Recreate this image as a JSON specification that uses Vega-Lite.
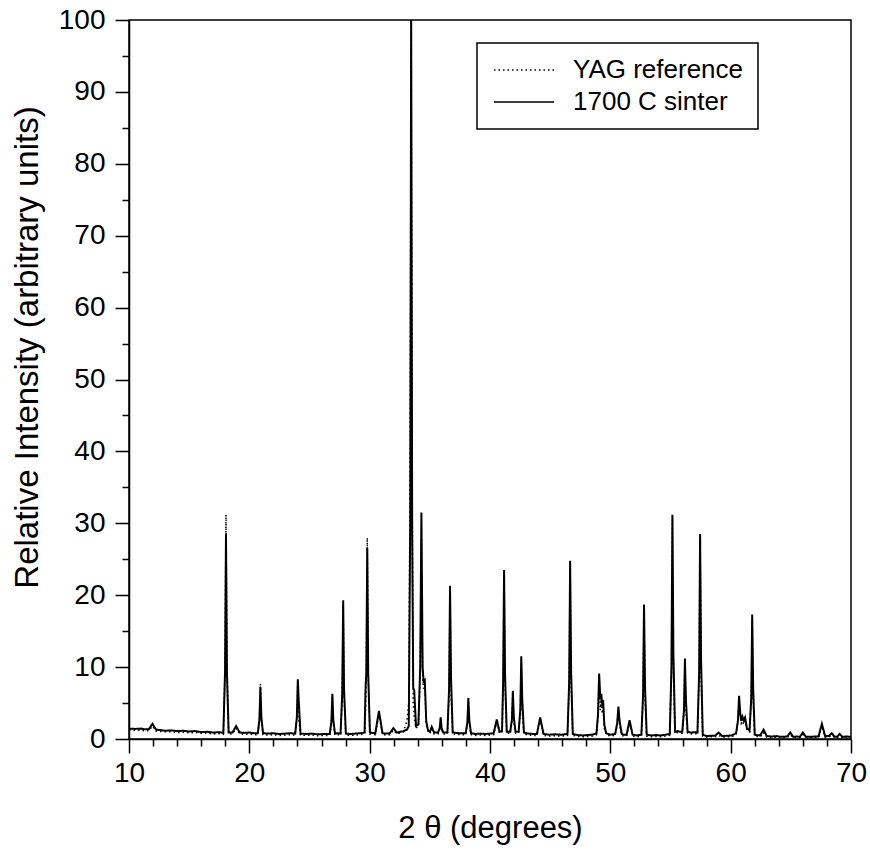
{
  "$schema": "https://vega.github.io/schema/vega-lite/v6.json",
  "width": 722,
  "height": 719,
  "autosize": {"type": "none"},
  "padding": {"left": 129, "top": 20, "right": 19, "bottom": 114},
  "background": "white",
  "config": {
    "view": {"stroke": "black", "strokeWidth": 1.5},
    "font": "Liberation Sans",
    "axis": {"domainColor": "black", "domainWidth": 1.5, "tickColor": "black", "tickWidth": 1.5, "labelColor": "black", "titleColor": "black", "labelFontSize": 28, "titleFontSize": 31, "titleFontWeight": "normal", "grid": false, "labelFont": "Liberation Sans", "titleFont": "Liberation Sans"},
    "legend": {"orient": "none", "legendX": 348, "legendY": 23, "strokeColor": "black", "strokeWidth": 1.5, "padding": 14, "symbolType": "M-1,0L5,0", "symbolSize": 400, "symbolStrokeWidth": 1.5, "symbolStrokeColor": "black", "labelOffset": 56, "labelFontSize": 26, "labelFont": "Liberation Sans", "labelColor": "black", "rowPadding": 6, "labelLimit": 300}
  },
  "resolve": {"scale": {"x": "shared", "y": "shared"}, "axis": {"x": "independent", "y": "independent"}},
  "data": {"values": [
    {"x":10,"s":1.45,"r":1.25},{"x":10.5,"s":1.4,"r":1.2},{"x":11,"s":1.45,"r":1.2},{"x":11.3,"s":1.35,"r":1.15},{"x":11.65,"s":1.35,"r":1.15},{"x":11.95,"s":2.1,"r":1.8},{"x":12.25,"s":1.3,"r":1.1},{"x":12.6,"s":1.25,"r":1.05},{"x":13,"s":1.15,"r":1.0},{"x":13.5,"s":1.2,"r":1.0},{"x":14,"s":1.1,"r":0.9},{"x":14.5,"s":1.15,"r":0.95},{"x":15,"s":1.05,"r":0.85},{"x":15.5,"s":1.1,"r":0.9},{"x":16,"s":0.95,"r":0.8},{"x":16.5,"s":1.0,"r":0.8},{"x":17,"s":0.9,"r":0.7},{"x":17.5,"s":0.95,"r":0.75},
    {"x":17.84,"s":0.85,"r":0.65},{"x":17.98,"s":9.2,"r":9.8},{"x":18.06,"s":28.5,"r":31.2},{"x":18.14,"s":9.2,"r":9.8},{"x":18.28,"s":0.9,"r":0.7},{"x":18.6,"s":0.9,"r":0.7},{"x":18.9,"s":1.8,"r":1.5},{"x":19.2,"s":0.9,"r":0.7},{"x":19.6,"s":0.85,"r":0.65},{"x":20,"s":0.9,"r":0.7},{"x":20.4,"s":0.8,"r":0.6},
    {"x":20.7,"s":0.8,"r":0.6},{"x":20.84,"s":2.7,"r":2.7},{"x":20.92,"s":7.2,"r":7.7},{"x":21.0,"s":3.0,"r":2.7},{"x":21.14,"s":0.8,"r":0.6},{"x":21.6,"s":0.75,"r":0.55},{"x":22,"s":0.8,"r":0.6},{"x":22.5,"s":0.7,"r":0.5},{"x":23,"s":0.75,"r":0.55},{"x":23.4,"s":0.8,"r":0.6},
    {"x":23.81,"s":0.75,"r":0.55},{"x":23.95,"s":3.0,"r":2.8},{"x":24.03,"s":8.3,"r":8.0},{"x":24.1,"s":5.5,"r":2.8},{"x":24.25,"s":0.75,"r":0.55},{"x":24.7,"s":0.7,"r":0.5},{"x":25.2,"s":0.75,"r":0.55},{"x":25.7,"s":0.65,"r":0.45},{"x":26.2,"s":0.7,"r":0.5},
    {"x":26.68,"s":0.7,"r":0.5},{"x":26.82,"s":2.4,"r":2.2},{"x":26.9,"s":6.3,"r":6.0},{"x":26.98,"s":2.6,"r":2.2},{"x":27.12,"s":0.75,"r":0.55},{"x":27.35,"s":0.8,"r":0.6},
    {"x":27.58,"s":0.75,"r":0.55},{"x":27.72,"s":6.3,"r":6.1},{"x":27.8,"s":19.3,"r":19.0},{"x":27.87,"s":7.0,"r":6.1},{"x":28.02,"s":0.75,"r":0.55},{"x":28.4,"s":0.7,"r":0.5},{"x":28.8,"s":0.75,"r":0.55},{"x":29.2,"s":0.8,"r":0.6},
    {"x":29.58,"s":0.9,"r":0.7},{"x":29.66,"s":7.3,"r":4.0},{"x":29.72,"s":9.0,"r":9.0},{"x":29.8,"s":26.6,"r":28.0},{"x":29.88,"s":9.0,"r":9.0},{"x":30.02,"s":0.9,"r":0.7},{"x":30.25,"s":0.85,"r":0.65},
    {"x":30.47,"s":0.8,"r":0.6},{"x":30.77,"s":3.9,"r":3.5},{"x":31.07,"s":0.8,"r":0.6},{"x":31.35,"s":0.75,"r":0.55},{"x":31.67,"s":0.8,"r":0.6},{"x":31.97,"s":1.5,"r":1.2},{"x":32.27,"s":0.9,"r":0.7},{"x":32.55,"s":1.0,"r":0.85},
    {"x":32.8,"s":1.1,"r":1.0},{"x":33.1,"s":1.3,"r":2.5},{"x":33.25,"s":1.8,"r":5.0},{"x":33.37,"s":30,"r":40},{"x":33.45,"s":100,"r":100},{"x":33.53,"s":30,"r":35},{"x":33.62,"s":7.1,"r":5.0},{"x":33.7,"s":6.8,"r":3.0},{"x":33.85,"s":1.8,"r":1.5},
    {"x":34.05,"s":2.0,"r":1.8},{"x":34.2,"s":10,"r":9},{"x":34.3,"s":31.5,"r":27.7},{"x":34.4,"s":10,"r":9},{"x":34.48,"s":8.0,"r":7.0},{"x":34.58,"s":8.2,"r":7.5},{"x":34.7,"s":2.5,"r":2.0},{"x":34.85,"s":1.2,"r":1.0},
    {"x":35.0,"s":1.0,"r":0.8},{"x":35.16,"s":1.7,"r":1.4},{"x":35.35,"s":0.9,"r":0.7},{"x":35.68,"s":0.9,"r":0.7},{"x":35.82,"s":1.5,"r":1.3},{"x":35.9,"s":3.0,"r":2.5},{"x":35.98,"s":1.5,"r":1.3},{"x":36.12,"s":0.9,"r":0.7},
    {"x":36.46,"s":0.9,"r":0.7},{"x":36.6,"s":7.0,"r":6.8},{"x":36.68,"s":21.3,"r":21.0},{"x":36.76,"s":8.5,"r":6.8},{"x":36.9,"s":0.9,"r":0.7},{"x":37.2,"s":0.85,"r":0.65},{"x":37.6,"s":0.8,"r":0.6},
    {"x":37.98,"s":0.8,"r":0.6},{"x":38.12,"s":2.3,"r":2.1},{"x":38.2,"s":5.7,"r":5.4},{"x":38.28,"s":2.6,"r":2.1},{"x":38.42,"s":0.8,"r":0.6},{"x":38.8,"s":0.7,"r":0.5},{"x":39.2,"s":0.75,"r":0.55},{"x":39.6,"s":0.7,"r":0.5},{"x":40,"s":0.75,"r":0.55},
    {"x":40.3,"s":0.8,"r":0.6},{"x":40.56,"s":2.7,"r":2.3},{"x":40.8,"s":1.0,"r":0.8},{"x":41.0,"s":1.1,"r":0.9},{"x":41.09,"s":7.8,"r":7.5},{"x":41.17,"s":23.5,"r":23.0},{"x":41.25,"s":9.0,"r":7.5},{"x":41.39,"s":1.0,"r":0.8},
    {"x":41.68,"s":1.0,"r":0.8},{"x":41.82,"s":2.7,"r":2.5},{"x":41.9,"s":6.7,"r":6.3},{"x":41.98,"s":3.0,"r":2.5},{"x":42.12,"s":1.0,"r":0.8},
    {"x":42.38,"s":1.0,"r":0.8},{"x":42.52,"s":4.1,"r":3.9},{"x":42.6,"s":11.5,"r":11.0},{"x":42.68,"s":5.5,"r":3.9},{"x":42.82,"s":0.9,"r":0.7},{"x":43.2,"s":0.75,"r":0.55},{"x":43.6,"s":0.7,"r":0.5},
    {"x":43.9,"s":0.7,"r":0.5},{"x":44.17,"s":3.0,"r":2.7},{"x":44.45,"s":0.7,"r":0.5},{"x":44.9,"s":0.6,"r":0.4},{"x":45.4,"s":0.65,"r":0.45},{"x":45.9,"s":0.6,"r":0.4},{"x":46.2,"s":0.65,"r":0.45},
    {"x":46.44,"s":0.7,"r":0.5},{"x":46.58,"s":7.9,"r":7.7},{"x":46.66,"s":24.8,"r":24.5},{"x":46.74,"s":9.5,"r":7.7},{"x":46.88,"s":0.7,"r":0.5},{"x":47.3,"s":0.55,"r":0.35},{"x":47.7,"s":0.5,"r":0.3},{"x":48.1,"s":0.55,"r":0.35},{"x":48.5,"s":0.6,"r":0.4},
    {"x":48.85,"s":0.8,"r":0.6},{"x":48.98,"s":3.5,"r":3.2},{"x":49.07,"s":9.1,"r":8.5},{"x":49.17,"s":5.5,"r":4.0},{"x":49.25,"s":6.3,"r":5.5},{"x":49.33,"s":4.5,"r":3.5},{"x":49.4,"s":5.4,"r":4.5},{"x":49.5,"s":2.0,"r":1.5},{"x":49.65,"s":0.8,"r":0.6},
    {"x":50.0,"s":0.6,"r":0.4},{"x":50.2,"s":0.65,"r":0.45},{"x":50.4,"s":0.7,"r":0.5},{"x":50.57,"s":2.2,"r":2.0},{"x":50.67,"s":4.5,"r":4.0},{"x":50.77,"s":2.5,"r":2.0},{"x":50.95,"s":0.7,"r":0.5},{"x":51.15,"s":0.6,"r":0.4},
    {"x":51.35,"s":0.6,"r":0.4},{"x":51.6,"s":2.6,"r":2.2},{"x":51.85,"s":0.6,"r":0.4},{"x":52.2,"s":0.5,"r":0.3},
    {"x":52.58,"s":0.6,"r":0.4},{"x":52.72,"s":6.0,"r":5.8},{"x":52.8,"s":18.7,"r":18.3},{"x":52.88,"s":7.5,"r":5.8},{"x":53.02,"s":0.6,"r":0.4},{"x":53.4,"s":0.5,"r":0.3},{"x":53.8,"s":0.55,"r":0.35},{"x":54.2,"s":0.5,"r":0.3},{"x":54.6,"s":0.6,"r":0.4},
    {"x":54.94,"s":0.7,"r":0.5},{"x":55.08,"s":9.9,"r":9.6},{"x":55.16,"s":31.2,"r":30.5},{"x":55.24,"s":12,"r":9.6},{"x":55.38,"s":1.0,"r":0.8},{"x":55.6,"s":1.1,"r":0.9},{"x":55.8,"s":1.0,"r":0.8},
    {"x":55.98,"s":1.0,"r":0.8},{"x":56.12,"s":4.0,"r":3.8},{"x":56.2,"s":11.2,"r":10.8},{"x":56.28,"s":5.5,"r":3.8},{"x":56.42,"s":1.0,"r":0.8},{"x":56.7,"s":0.9,"r":0.7},{"x":57.0,"s":0.95,"r":0.75},
    {"x":57.24,"s":0.9,"r":0.7},{"x":57.38,"s":9.2,"r":9.0},{"x":57.46,"s":28.5,"r":28.0},{"x":57.54,"s":11,"r":9.0},{"x":57.68,"s":0.6,"r":0.4},{"x":58.0,"s":0.4,"r":0.25},{"x":58.35,"s":0.45,"r":0.3},
    {"x":58.7,"s":0.45,"r":0.3},{"x":59.0,"s":0.9,"r":0.5},{"x":59.3,"s":0.4,"r":0.25},{"x":59.7,"s":0.45,"r":0.3},{"x":60.1,"s":0.5,"r":0.35},
    {"x":60.45,"s":0.8,"r":0.6},{"x":60.6,"s":2.5,"r":2.3},{"x":60.7,"s":6.0,"r":5.5},{"x":60.8,"s":3.5,"r":3.0},{"x":60.88,"s":2.5,"r":2.2},{"x":60.98,"s":3.1,"r":2.5},{"x":61.08,"s":2.6,"r":2.0},{"x":61.2,"s":3.0,"r":2.5},{"x":61.35,"s":1.5,"r":1.2},
    {"x":61.57,"s":1.2,"r":1.0},{"x":61.71,"s":5.7,"r":5.5},{"x":61.79,"s":17.3,"r":16.8},{"x":61.87,"s":7.0,"r":5.5},{"x":62.0,"s":0.6,"r":0.4},{"x":62.2,"s":0.55,"r":0.35},
    {"x":62.45,"s":0.5,"r":0.3},{"x":62.73,"s":1.3,"r":0.9},{"x":63.0,"s":0.4,"r":0.25},{"x":63.4,"s":0.35,"r":0.2},{"x":63.8,"s":0.4,"r":0.25},{"x":64.2,"s":0.3,"r":0.2},
    {"x":64.7,"s":0.35,"r":0.2},{"x":64.95,"s":0.9,"r":0.6},{"x":65.2,"s":0.3,"r":0.2},{"x":65.5,"s":0.35,"r":0.2},{"x":65.75,"s":0.3,"r":0.2},{"x":66.0,"s":0.9,"r":0.6},{"x":66.25,"s":0.3,"r":0.2},{"x":66.6,"s":0.3,"r":0.2},{"x":67.0,"s":0.35,"r":0.2},
    {"x":67.3,"s":0.35,"r":0.2},{"x":67.58,"s":2.1,"r":1.8},{"x":67.85,"s":0.4,"r":0.25},{"x":68.15,"s":0.4,"r":0.25},{"x":68.4,"s":0.8,"r":0.5},{"x":68.65,"s":0.3,"r":0.2},{"x":68.85,"s":0.3,"r":0.2},{"x":69.05,"s":0.7,"r":0.4},{"x":69.3,"s":0.3,"r":0.2},{"x":69.6,"s":0.35,"r":0.2},{"x":70,"s":0.3,"r":0.2}
  ]},
  "layer": [
    {
      "mark": {"type": "line", "color": "black", "strokeWidth": 1.5, "clip": true},
      "encoding": {
        "x": {
          "field": "x", "type": "quantitative",
          "scale": {"domain": [10, 70], "nice": false, "zero": false},
          "axis": {
            "orient": "bottom",
            "values": [10, 20, 30, 40, 50, 60, 70],
            "tickSize": 14,
            "labelPadding": 6,
            "labelFlush": false,
            "labelOverlap": false,
            "title": "2 θ (degrees)",
            "titlePadding": 26
          }
        },
        "y": {
          "field": "r", "type": "quantitative",
          "scale": {"domain": [0, 100], "nice": false},
          "axis": {
            "orient": "left",
            "values": [0, 10, 20, 30, 40, 50, 60, 70, 80, 90, 100],
            "tickSize": 14,
            "labelPadding": 10,
            "labelFlush": false,
            "labelOverlap": false,
            "title": "Relative Intensity (arbitrary units)",
            "titleFontSize": 33,
            "titlePadding": 14,
            "titleY": 327
          }
        },
        "strokeDash": {
          "datum": "YAG reference", "type": "nominal",
          "scale": {"domain": ["YAG reference", "1700 C sinter"], "range": [[1.5, 3], [1, 0]]},
          "legend": {"title": null}
        }
      }
    },
    {
      "mark": {"type": "line", "color": "black", "strokeWidth": 2, "clip": true},
      "encoding": {
        "x": {
          "field": "x", "type": "quantitative",
          "axis": {
            "orient": "bottom",
            "values": [12, 14, 16, 18, 22, 24, 26, 28, 32, 34, 36, 38, 42, 44, 46, 48, 52, 54, 56, 58, 62, 64, 66, 68],
            "tickSize": 7,
            "labels": false,
            "domain": false,
            "title": null
          }
        },
        "y": {
          "field": "s", "type": "quantitative",
          "axis": {
            "orient": "left",
            "values": [5, 15, 25, 35, 45, 55, 65, 75, 85, 95],
            "tickSize": 7,
            "labels": false,
            "domain": false,
            "title": null
          }
        },
        "strokeDash": {"datum": "1700 C sinter", "type": "nominal"}
      }
    }
  ]
}
